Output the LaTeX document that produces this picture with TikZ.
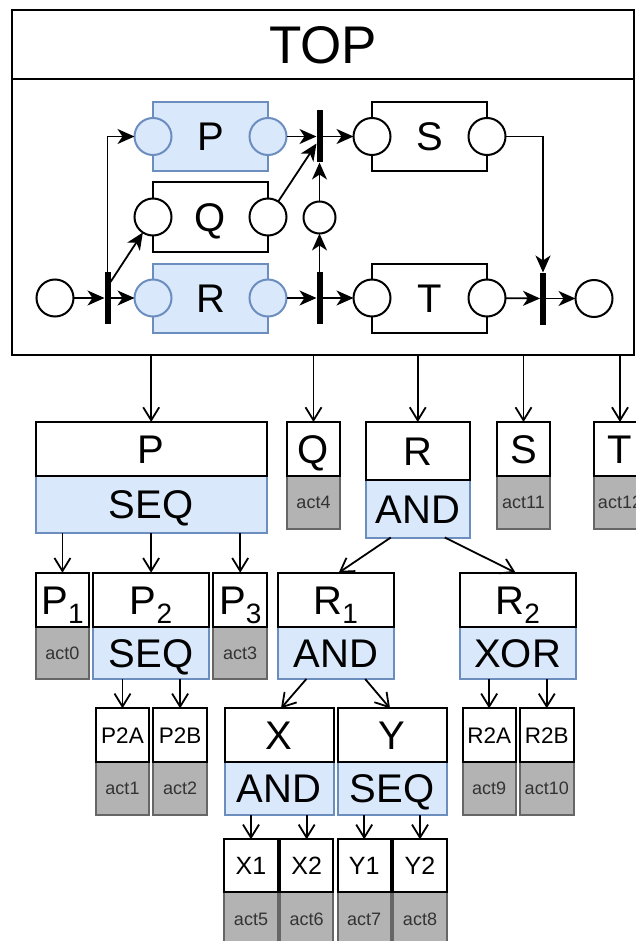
\documentclass[tikz,border=0pt]{standalone}
\usepackage{fontspec}
\setmainfont{Liberation Sans}
\usetikzlibrary{arrows.meta}
\definecolor{bluefill}{HTML}{DAE8FC}
\definecolor{bluedraw}{HTML}{6C8EBF}
\definecolor{actfill}{HTML}{B3B3B3}
\definecolor{actdraw}{HTML}{666666}
\definecolor{acttext}{HTML}{333333}

\newcommand\fsz[1]{\fontsize{#1}{#1}\selectfont}
\newcommand\subidx[1]{\raisebox{-9pt}{\fsz{28}#1}}

% two-part box: name, x, y, width, title height, body height, title, body style, body text
\newcommand\treebox[9]{%
  \node[box, anchor=north west, minimum width=#4, minimum height=#6, #8] (#1b) at (#2,#3+#5) {#9};
  \node[box, anchor=north west, minimum width=#4, minimum height=#5, ttl] (#1t) at (#2,#3) {#7};
}

\begin{document}
\begin{tikzpicture}[x=1pt, y=-1pt,
  f53/.style={font=\fsz{53}, text height=38pt},
  f40/.style={font=\fsz{40}, text height=28.6pt},
  f25/.style={font=\fsz{25}, text height=17.9pt},
  f22/.style={font=\fsz{22.5}, text height=16.1pt},
  f18/.style={font=\fsz{18}, text height=12.9pt},
  box/.style={draw, line width=2pt, fill=white, inner sep=0pt, outer sep=0pt, text depth=0pt},
  ttl/.style={f40},
  seqb/.style={fill=bluefill, draw=bluedraw, f40},
  actb/.style={fill=actfill, draw=actdraw, text=acttext, f18},
  pbox/.style={box, minimum width=115, minimum height=69, f40},
  bluebox/.style={pbox, fill=bluefill, draw=bluedraw},
  place/.style={circle, draw, line width=2pt, fill=white, minimum size=37, inner sep=0pt, outer sep=0pt},
  blueplace/.style={place, fill=bluefill, draw=bluedraw},
  bar/.style={fill=black, minimum width=6, minimum height=52, inner sep=0pt, outer sep=0pt},
  pn/.style={line width=1.8pt, -{Stealth[length=17pt, width=15pt, inset=5pt]}},
  tree/.style={line width=1.8pt, -{Straight Barb[length=13pt, width=16pt]}}]

\useasboundingbox (0,0) rectangle (636,941);
\clip (0,0) rectangle (636,941);

% ---------- top-level net ----------
\node[box, anchor=north west, minimum width=622, minimum height=276] (topbody) at (12,79) {};
\node[box, anchor=north west, minimum width=622, minimum height=69, f53] (toptitle) at (12,10) {TOP};

\node[place] (start) at (55,298) {};
\node[bar] (bA) at (107.5,298) {};

\node[bluebox] (netP) at (210.5,136.5) {P};
\node[blueplace] (Pin) at (netP.west) {};
\node[blueplace] (Pout) at (netP.east) {};

\node[pbox] (netQ) at (210.5,217) {Q};
\node[place] (Qin) at (netQ.west) {};
\node[place] (Qout) at (netQ.east) {};

\node[bluebox] (netR) at (210.5,298) {R};
\node[blueplace] (Rin) at (netR.west) {};
\node[blueplace] (Rout) at (netR.east) {};

\node[bar] (bB) at (319.5,136.5) {};
\node[place, minimum size=32] (mid) at (319.5,217.5) {};
\node[bar] (bC) at (319.5,298) {};

\node[pbox] (netS) at (429.5,136.5) {S};
\node[place] (Sin) at (netS.west) {};
\node[place] (Sout) at (netS.east) {};

\node[pbox] (netT) at (429.5,298) {T};
\node[place] (Tin) at (netT.west) {};
\node[place] (Tout) at (netT.east) {};

\node[bar] (bD) at (543,298.5) {};
\node[place] (end) at (594,298.5) {};

\draw[pn] (start) -- (bA);
\draw[pn] (bA) -- (Rin);
\draw[pn] (bA.north) |- (Pin);
\draw[pn] ([yshift=-10]bA.north east) -- (Qin);
\draw[pn] (Pout) -- (bB);
\draw[pn] (Qout) -- ([yshift=-7]bB.west);
\draw[pn] (mid) -- (bB);
\draw[pn] (bC) -- (mid);
\draw[pn] (Rout) -- (bC);
\draw[pn] (bB) -- (Sin);
\draw[pn] (bC) -- (Tin);
\draw[pn] (Sout) -| (bD);
\draw[pn] (Tout) -- (bD);
\draw[pn] (bD) -- (end);

% ---------- decomposition tree ----------
\treebox{P}{35.7}{422}{231}{54}{56.7}{P}{seqb}{SEQ}
\treebox{Q}{287}{422}{53}{54}{53}{Q}{actb}{act4}
\treebox{R}{366}{422}{103.5}{58}{57.5}{R}{seqb}{AND}
\treebox{S}{497}{422}{53}{54}{53}{S}{actb}{act11}
\treebox{T}{593.5}{422}{53}{54}{53}{T}{actb}{act12}

\treebox{Pone}{35.7}{572.7}{53.5}{54}{52.3}{P\subidx{1}}{actb}{act0}
\treebox{Ptwo}{93.3}{572.7}{115.6}{54}{52.3}{P\subidx{2}}{seqb}{SEQ}
\treebox{Pthree}{213.4}{572.7}{53.6}{54}{52.3}{P\subidx{3}}{actb}{act3}
\treebox{Rone}{278}{572.7}{115.5}{54}{52.3}{R\subidx{1}}{seqb}{AND}
\treebox{Rtwo}{459.6}{572.7}{116}{54}{52.3}{R\subidx{2}}{seqb}{XOR}

\begin{scope}[ttl/.style={f22}]
\treebox{PtwoA}{95.7}{708.3}{53.6}{53.4}{53.6}{P2A}{actb}{act1}
\treebox{PtwoB}{153.3}{708.3}{53.6}{53.4}{53.6}{P2B}{actb}{act2}
\treebox{RtwoA}{462.5}{708.3}{53.3}{53.4}{53.6}{R2A}{actb}{act9}
\treebox{RtwoB}{520}{708.3}{53.5}{53.4}{53.6}{R2B}{actb}{act10}
\end{scope}
\treebox{X}{224.5}{708.3}{109}{53.4}{53.6}{X}{seqb}{AND}
\treebox{Y}{337.5}{708.3}{109}{53.4}{53.6}{Y}{seqb}{SEQ}

\begin{scope}[ttl/.style={f25}]
\treebox{Xone}{224.3}{839.3}{53.4}{53}{53}{X1}{actb}{act5}
\treebox{Xtwo}{280}{839.3}{53.3}{53}{53}{X2}{actb}{act6}
\treebox{Yone}{337.7}{839.3}{53}{53}{53}{Y1}{actb}{act7}
\treebox{Ytwo}{393.3}{839.3}{53.4}{53}{53}{Y2}{actb}{act8}
\end{scope}

\foreach \c in {P,Q,R,S,T}
  \draw[tree] (topbody.south -| \c t.north) -- (\c t.north);
\foreach \c in {Pone,Ptwo,Pthree}
  \draw[tree] (Pb.south -| \c t.north) -- (\c t.north);
\draw[tree] ([xshift=-27]Rb.south) -- ([xshift=3]Ronet.north);
\draw[tree] ([xshift=27]Rb.south) -- ([xshift=-2]Rtwot.north);
\foreach \c in {PtwoA,PtwoB}
  \draw[tree] (Ptwob.south -| \c t.north) -- (\c t.north);
\draw[tree] ([xshift=-29.4]Roneb.south) -- ([xshift=2]Xt.north);
\draw[tree] ([xshift=29.4]Roneb.south) -- ([xshift=-2]Yt.north);
\foreach \c in {RtwoA,RtwoB}
  \draw[tree] (Rtwob.south -| \c t.north) -- (\c t.north);
\foreach \c in {Xone,Xtwo}
  \draw[tree] (Xb.south -| \c t.north) -- (\c t.north);
\foreach \c in {Yone,Ytwo}
  \draw[tree] (Yb.south -| \c t.north) -- (\c t.north);

\end{tikzpicture}
\end{document}
